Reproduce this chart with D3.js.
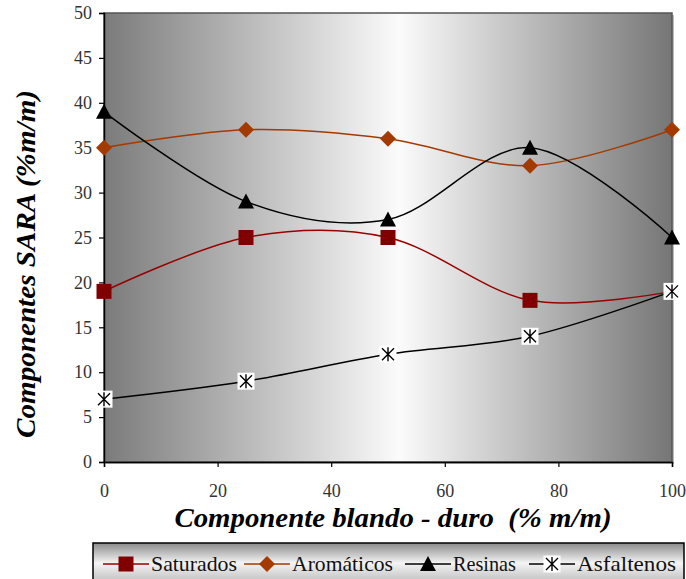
<!DOCTYPE html>
<html>
<head>
<meta charset="utf-8">
<script src="https://cdn.jsdelivr.net/npm/d3@7/dist/d3.min.js"></script>
<style>
  body { margin: 0; background: #fff; }
  svg { display: block; }
</style>
</head>
<body>
<svg id="chart" width="686" height="579" font-family="Liberation Serif"></svg>
<script>
// data
var xValues = [0, 25, 50, 75, 100];
var saturados = [19, 25, 25, 18, 19];
var aromaticos = [35, 37, 36, 33, 37];
var resinas = [39, 29, 27, 35, 25];
var asfaltenos = [7, 9, 12, 14, 19];
var xTicks = [0, 20, 40, 60, 80, 100];
var yTicks = [0, 5, 10, 15, 20, 25, 30, 35, 40, 45, 50];
var seriesNames = ['Saturados', 'Aromáticos', 'Resinas', 'Asfaltenos'];

var FONT = 'Liberation Serif';
var svg = d3.select('#chart');
var plotLeft = 104, plotRight = 672, plotTop = 13, plotBottom = 462;

var x = d3.scaleLinear().domain([0, 100]).range([plotLeft, plotRight]);
var y = d3.scaleLinear().domain([0, 50]).range([plotBottom, plotTop]);

// background gradient of the plot area
var defs = svg.append('defs');
var grad = defs.append('linearGradient').attr('id', 'bg')
    .attr('x1', '0%').attr('x2', '100%').attr('y1', '0%').attr('y2', '0%');
grad.append('stop').attr('offset', '0%').attr('stop-color', '#7b7b7b');
grad.append('stop').attr('offset', '52%').attr('stop-color', '#fbfbfb');
grad.append('stop').attr('offset', '100%').attr('stop-color', '#767676');

var lgrad = defs.append('linearGradient').attr('id', 'lg')
    .attr('x1', '0%').attr('x2', '0%').attr('y1', '0%').attr('y2', '100%');
lgrad.append('stop').attr('offset', '0%').attr('stop-color', '#8a8a8a');
lgrad.append('stop').attr('offset', '50%').attr('stop-color', '#f4f4f4');
lgrad.append('stop').attr('offset', '100%').attr('stop-color', '#bdbdbd');

// shadow + plot area
svg.append('rect')
    .attr('x', plotLeft + 2).attr('y', plotTop + 2)
    .attr('width', plotRight - plotLeft).attr('height', plotBottom - plotTop)
    .attr('fill', '#bbb');
svg.append('rect')
    .attr('x', plotLeft).attr('y', plotTop)
    .attr('width', plotRight - plotLeft).attr('height', plotBottom - plotTop)
    .attr('fill', 'url(#bg)')
    .attr('stroke', '#555').attr('stroke-width', 1.5);

// axes
var yAxis = d3.axisLeft(y).tickValues(yTicks).tickSize(5).tickPadding(7);
var gy = svg.append('g').attr('transform', 'translate(' + plotLeft + ',0)').call(yAxis);
var xAxis = d3.axisBottom(x).tickValues(xTicks).tickSize(5).tickPadding(17);
var gx = svg.append('g').attr('transform', 'translate(0,' + plotBottom + ')').call(xAxis);
[gx, gy].forEach(function (g) {
    g.attr('font-family', FONT).attr('font-size', 18);
    g.select('.domain').attr('stroke', '#000').attr('stroke-width', 1.5);
    g.selectAll('.tick line').attr('stroke', '#000').attr('stroke-width', 1.2);
    g.selectAll('.tick text')
        .attr('font-family', FONT)
        .attr('font-size', 18).attr('fill', '#333');
});

// axis titles
svg.append('text')
    .attr('x', 393).attr('y', 527)
    .attr('text-anchor', 'middle')
    .attr('xml:space', 'preserve')
    .attr('font-family', FONT)
    .attr('font-size', 28).attr('font-weight', 'bold').attr('font-style', 'italic')
    .attr('textLength', 437).attr('lengthAdjust', 'spacingAndGlyphs')
    .text('Componente blando - duro  (% m/m)');
svg.append('text')
    .attr('transform', 'translate(35,264) rotate(-90)')
    .attr('text-anchor', 'middle')
    .attr('font-family', FONT)
    .attr('font-size', 28).attr('font-weight', 'bold').attr('font-style', 'italic')
    .attr('textLength', 348).attr('lengthAdjust', 'spacingAndGlyphs')
    .text('Componentes SARA (%m/m)');

// markers
function drawMarker(g, kind) {
    if (kind === 'square') {
        g.append('rect').attr('x', -7.5).attr('y', -7.5).attr('width', 15).attr('height', 15)
            .attr('fill', '#800000');
    } else if (kind === 'diamond') {
        g.append('path').attr('d', 'M0,-8L8,0L0,8L-8,0Z').attr('fill', '#a33a00');
    } else if (kind === 'triangle') {
        g.append('path').attr('d', 'M0,-8L8,7L-8,7Z').attr('fill', '#000');
    } else {
        g.append('rect').attr('x', -8.5).attr('y', -8.5).attr('width', 17).attr('height', 17)
            .attr('fill', '#fff');
        g.append('path').attr('d', 'M-6,-6L6,6M-6,6L6,-6M0,-7L0,7')
            .attr('stroke', '#000').attr('stroke-width', 1.4).attr('fill', 'none');
    }
}

var series = [
    { name: seriesNames[0], values: saturados, color: '#990000', marker: 'square' },
    { name: seriesNames[1], values: aromaticos, color: '#a33a00', marker: 'diamond' },
    { name: seriesNames[2], values: resinas, color: '#000', marker: 'triangle' },
    { name: seriesNames[3], values: asfaltenos, color: '#000', marker: 'star' }
];

var line = d3.line()
    .x(function (d) { return x(d[0]); })
    .y(function (d) { return y(d[1]); })
    .curve(d3.curveCardinal.tension(0));

series.forEach(function (s) {
    var pts = xValues.map(function (v, i) { return [v, s.values[i]]; });
    svg.append('path').datum(pts)
        .attr('d', line)
        .attr('fill', 'none').attr('stroke', s.color).attr('stroke-width', 1.5);
});
series.forEach(function (s) {
    xValues.forEach(function (v, i) {
        var g = svg.append('g').attr('transform', 'translate(' + x(v) + ',' + y(s.values[i]) + ')');
        drawMarker(g, s.marker);
    });
});

// legend
var lgx = 93, lgy = 543;
svg.append('rect')
    .attr('x', lgx).attr('y', lgy).attr('width', 591).attr('height', 40)
    .attr('fill', 'url(#lg)').attr('stroke', '#000').attr('stroke-width', 1.5);
var legendPos = [103, 244, 405, 529];
var legendText = [86, 101, 63, 99];
series.forEach(function (s, i) {
    var g = svg.append('g').attr('transform', 'translate(' + legendPos[i] + ',' + 564 + ')');
    g.append('line').attr('x1', 0).attr('x2', 46).attr('y1', 0).attr('y2', 0)
        .attr('stroke', s.color).attr('stroke-width', 1.5);
    drawMarker(g.append('g').attr('transform', 'translate(23,0)'), s.marker);
    g.append('text').attr('x', 48).attr('y', 7)
        .attr('font-family', FONT)
        .attr('font-size', 22).attr('fill', '#111')
        .attr('textLength', legendText[i]).attr('lengthAdjust', 'spacingAndGlyphs')
        .text(s.name);
});
</script>
</body>
</html>
